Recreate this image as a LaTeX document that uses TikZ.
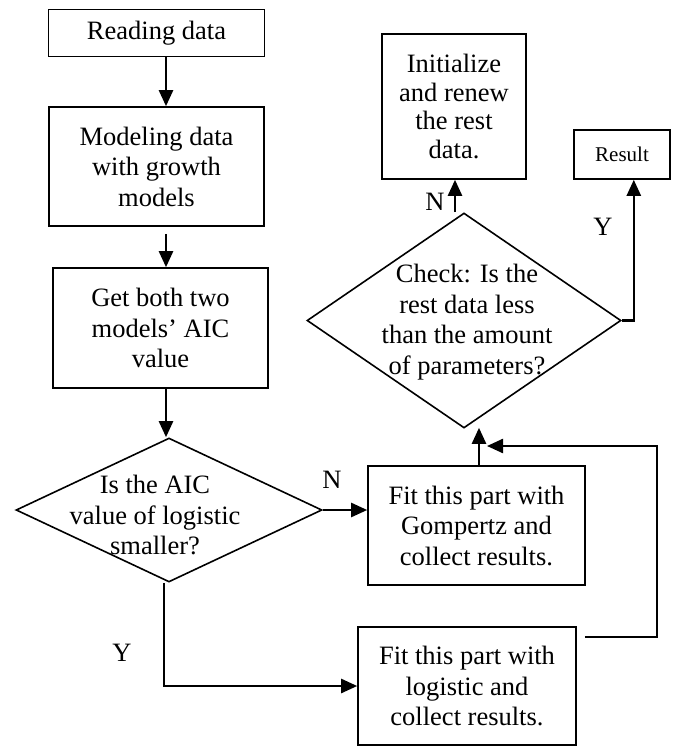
\documentclass[tikz,border=0pt]{standalone}
\usepackage{fontspec}
\setmainfont{Liberation Serif}
\usetikzlibrary{arrows.meta,calc,shapes.geometric}
\begin{document}
\begin{tikzpicture}[x=1pt,y=-1pt,
 box/.style={draw,line width=1.6pt,inner sep=0pt,align=center,font=\fontsize{26.5}{30.5}\selectfont},
 dia/.style={draw,diamond,line width=1.6pt,inner sep=0pt},
 txt/.style={align=center,inner sep=0pt,font=\fontsize{26.5}{30.5}\selectfont},
 arr/.style={line width=2.4pt,-{Triangle[length=16pt,width=14pt]}},
 lbl/.style={inner sep=0pt,font=\fontsize{26.5}{30.5}\selectfont},
]
\useasboundingbox (0,0) rectangle (676,747);
% boxes
\node[box,minimum width=216pt,minimum height=47pt] (read) at (156.5,33) {Reading data};
\node[box,minimum width=215pt,minimum height=119pt] (model) at (156.5,166.5) {Modeling data\\with growth\\models};
\node[box,minimum width=215pt,minimum height=120pt] (getb) at (160.5,328) {Get both two\\models' AIC\\value};
\node[dia,minimum width=306pt,minimum height=144pt] (d1) at (169,510) {};
\node[txt] (t1) at (155,515) {Is the AIC\\value of logistic\\smaller?};
\node[box,minimum width=217pt,minimum height=119pt] (gomp) at (476.5,525.5) {Fit this part with\\Gompertz and\\collect results.};
\node[box,minimum width=218pt,minimum height=118pt] (logi) at (467,686) {Fit this part with\\logistic and\\collect results.};
\node[dia,minimum width=314pt,minimum height=215pt] (d2) at (464,320.5) {};
\node[txt] (t2) at (467,322) {Check: Is the\\rest data less\\than the amount\\of parameters?};
\node[box,minimum width=144pt,minimum height=145pt,font=\fontsize{26.5}{28.5}\selectfont] (init) at (454,106.5) {Initialize\\and renew\\the rest\\data.};
\node[box,minimum width=96pt,minimum height=49pt,font=\fontsize{21}{24}\selectfont] (res) at (622,154.5) {Result};
% connectors
\draw[arr] (read.south -| 166,0) -- (model.north -| 166,0);
\draw[arr] ($(model.south -| 166,0)+(0,7)$) -- (getb.north -| 166,0);
\draw[arr] (getb.south -| 166,0) -- (d1.north -| 166,0);
\draw[arr] (d1.east) -- (gomp.west |- d1.east);
\draw[arr] ($(d1.south)+(-5,0)$) coordinate (ya) -- (ya |- logi.west) -- (logi.west);
\draw[arr] (gomp.north -| 479,0) -- ($(d2.south -| 479,0)+(0,-1)$);
\draw[arr] ($(logi.east |- 0,637)+(8,0)$) -- (657,637) coordinate (lc) -- (lc |- 0,446) -- (487,446);
\draw[arr] ($(d2.north)+(-9,0)$) coordinate (na) -- (na |- init.south);
\draw[arr] (d2.east) -- ($(d2.east)+(12,0)$) coordinate (yc) -- (yc |- res.south);
% labels
\node[lbl] (n1) at (332,480) {N};
\node[lbl] (y1) at (122,653) {Y};
\node[lbl] (n2) at (435,202) {N};
\node[lbl] (y2) at (603,227) {Y};
\end{tikzpicture}
\end{document}
